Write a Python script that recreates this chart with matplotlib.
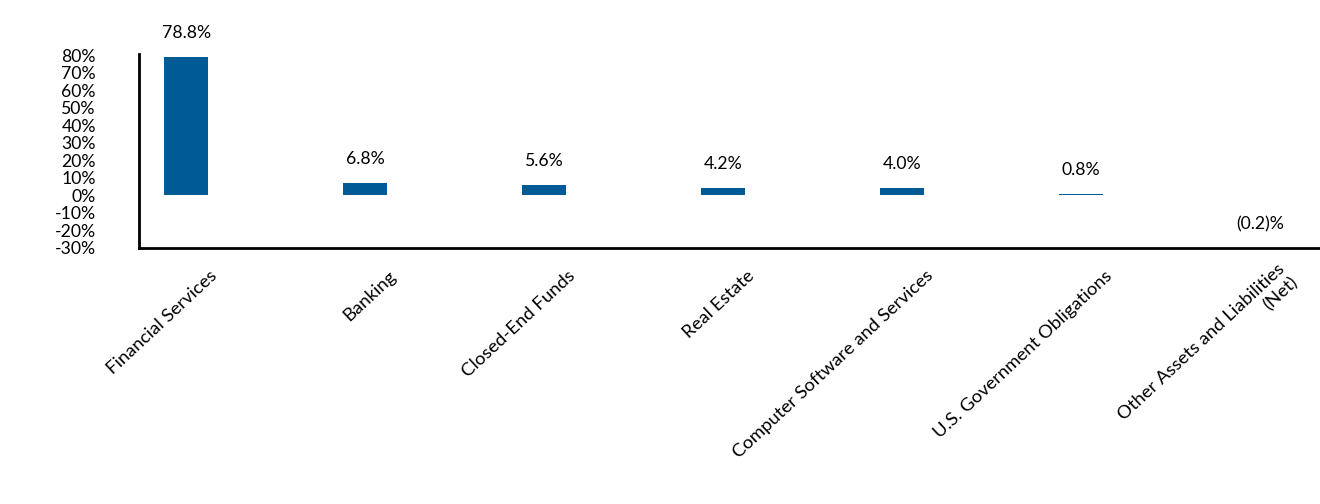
import matplotlib
matplotlib.use("Agg")
import matplotlib.pyplot as plt
import matplotlib.transforms as mtransforms

categories = ["Financial Services", "Banking", "Closed-End Funds", "Real Estate",
              "Computer Software and Services", "U.S. Government Obligations",
              "Other Assets and Liabilities\n(Net)"]
values = [78.8, 6.8, 5.6, 4.2, 4.0, 0.8, -0.2]
value_labels = ["78.8%", "6.8%", "5.6%", "4.2%", "4.0%", "0.8%", "(0.2)%"]
yticks = list(range(-30, 81, 10))
ytick_labels = [f"{t}%" for t in yticks]

plt.rcParams['font.family'] = ['Lato', 'DejaVu Sans']

W, H, DPI = 1320, 504, 100
fig = plt.figure(figsize=(W / DPI, H / DPI), dpi=DPI)
ax = fig.add_axes([139 / W, (H - 247.5) / H, (W - 139) / W, (247.5 - 54) / H])

bar_color = "#005A96"
x = list(range(len(categories)))
ax.bar(x, values, width=0.246, color=bar_color, linewidth=0)

ax.set_xlim(-0.263, 6.335)
ax.set_ylim(-30, 80.6)

ax.set_yticks(yticks)
ax.set_yticklabels(ytick_labels, fontsize=12.7, color="black")
ax.tick_params(axis='y', length=0, pad=31)
ax.tick_params(axis='x', length=0)

for s in ["top", "right"]:
    ax.spines[s].set_visible(False)
for s in ["left", "bottom"]:
    ax.spines[s].set_linewidth(2)
    ax.spines[s].set_color("black")

# value labels
for xi, v, lab in zip(x, values, value_labels):
    if v >= 0:
        ax.annotate(lab, (xi, v), xytext=(0, 19 * 72 / DPI), textcoords="offset points",
                    ha="center", va="baseline", fontsize=12.7, color="black")
    else:
        ax.annotate(lab, (xi, v), xytext=(0, -29 * 72 / DPI), textcoords="offset points",
                    ha="center", va="center", fontsize=12.7, color="black")

# category labels
ax.set_xticks(x)
ax.set_xticklabels([])
offset = mtransforms.ScaledTranslation(29 / DPI, -26 / DPI, fig.dpi_scale_trans)
for xi, cat in zip(x, categories):
    ax.text(xi, -30, cat, transform=ax.transData + offset, rotation=43,
            ha="right", va="center", rotation_mode="anchor", fontsize=13.3,
            multialignment="right", color="black")

fig.savefig("out.png", dpi=DPI)
